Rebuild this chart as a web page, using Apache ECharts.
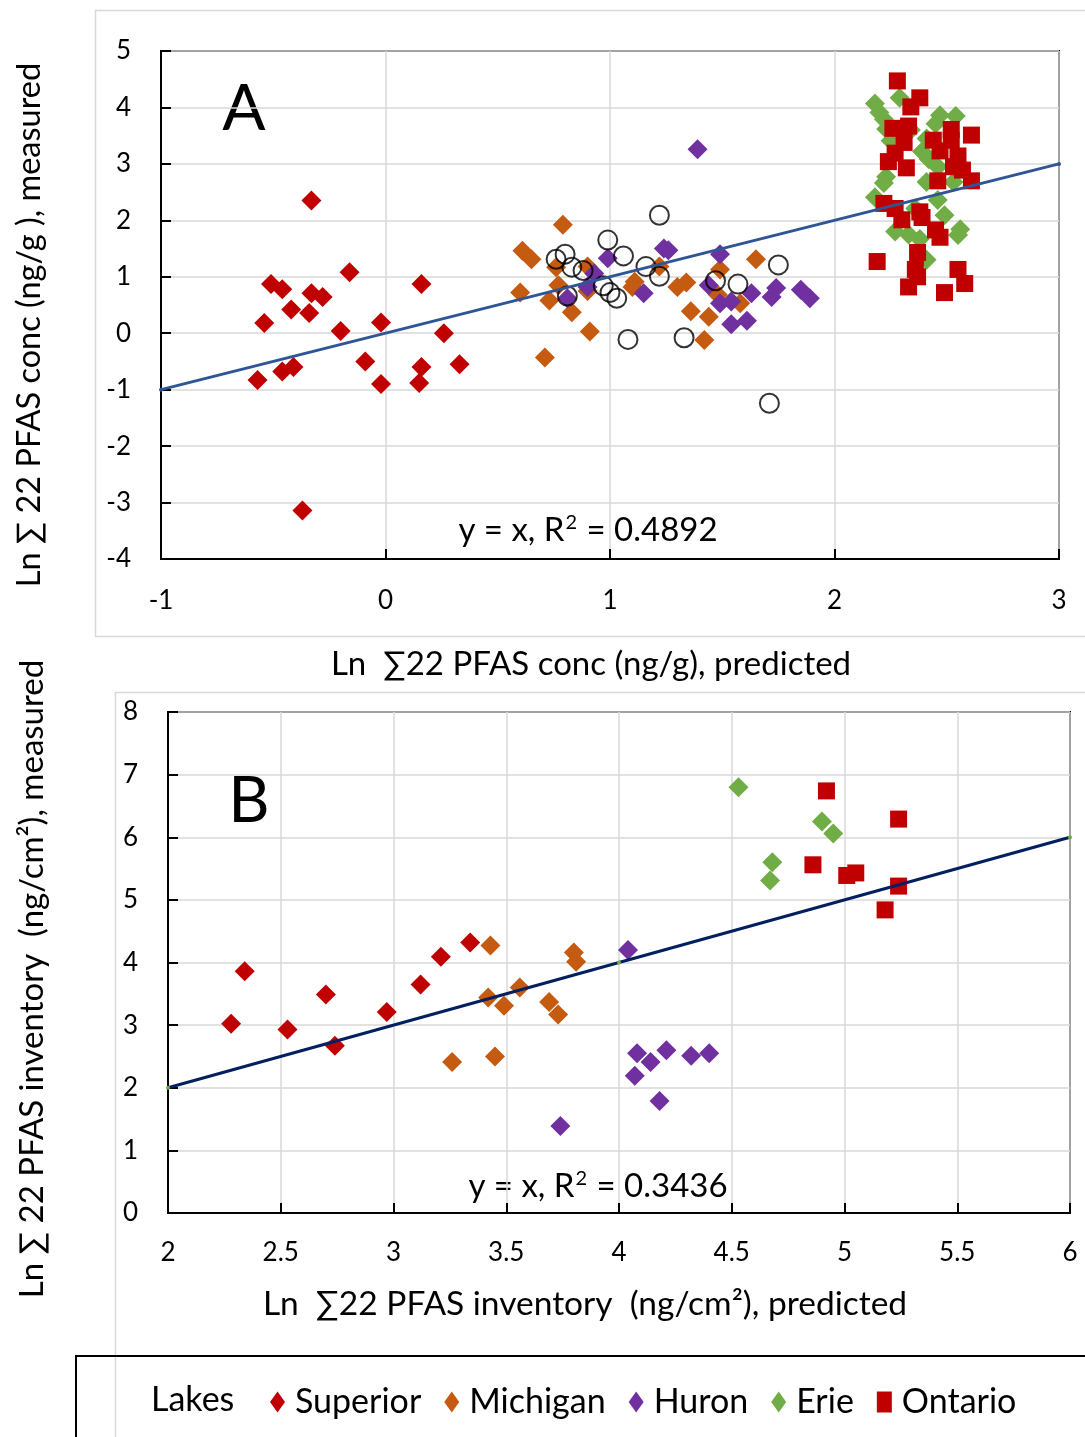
<!DOCTYPE html>
<html>
<head>
<meta charset="utf-8">
<script src="https://cdn.jsdelivr.net/npm/echarts@6/dist/echarts.min.js"></script>
<style>
html,body{margin:0;padding:0;background:#fff;}
#c{width:1085px;height:1437px;}
</style>
</head>
<body>
<div id="c"></div>
<script>
// ---------- Panel A data: [predicted, measured] (ln ng/g) ----------
const superiorA = [[-0.33,2.35],[-0.51,0.87],[-0.46,0.78],[-0.33,0.71],[-0.28,0.64],[-0.16,1.08],[0.16,0.87],[-0.42,0.42],[-0.34,0.36],[-0.54,0.18],[-0.20,0.04],[-0.02,0.19],[0.26,0.00],[-0.09,-0.50],[0.33,-0.55],[-0.46,-0.68],[-0.41,-0.60],[-0.57,-0.83],[0.16,-0.60],[-0.02,-0.90],[0.15,-0.88],[-0.37,-3.14]];
const michiganA = [[0.79,1.92],[0.61,1.46],[0.65,1.31],[0.76,1.17],[0.90,1.18],[0.60,0.72],[0.77,0.85],[0.73,0.58],[0.83,0.37],[0.90,0.75],[0.91,0.03],[0.71,-0.43],[1.11,0.91],[1.10,0.82],[1.22,1.18],[1.30,0.82],[1.34,0.90],[1.36,0.39],[1.44,0.29],[1.42,-0.12],[1.49,1.13],[1.48,0.68],[1.58,0.53],[1.65,1.31]];
const huronA = [[0.99,1.33],[1.24,1.50],[1.26,1.47],[0.93,1.06],[0.90,0.82],[0.81,0.62],[1.15,0.71],[1.49,1.40],[1.44,0.85],[1.49,0.53],[1.54,0.56],[1.63,0.71],[1.74,0.80],[1.72,0.64],[1.85,0.77],[1.89,0.62],[1.54,0.16],[1.61,0.22],[1.39,3.26]];
const erieA = [[2.18,4.07],[2.29,4.17],[2.20,3.91],[2.47,3.86],[2.54,3.85],[2.22,3.79],[2.23,3.62],[2.45,3.71],[2.34,3.60],[2.25,3.41],[2.41,3.45],[2.39,3.22],[2.42,3.08],[2.46,2.95],[2.23,2.77],[2.22,2.66],[2.41,2.68],[2.53,2.68],[2.18,2.41],[2.46,2.36],[2.36,2.21],[2.49,2.09],[2.27,1.80],[2.33,1.75],[2.38,1.67],[2.55,1.74],[2.56,1.84],[2.41,1.30]];
const ontarioA = [[2.28,4.47],[2.38,4.17],[2.34,4.01],[2.26,3.63],[2.33,3.67],[2.31,3.38],[2.52,3.61],[2.61,3.51],[2.44,3.42],[2.52,3.42],[2.27,3.19],[2.47,3.23],[2.55,3.14],[2.24,3.04],[2.32,2.93],[2.53,2.95],[2.57,2.89],[2.46,2.70],[2.61,2.70],[2.22,2.30],[2.27,2.21],[2.30,2.01],[2.38,2.15],[2.39,2.05],[2.45,1.83],[2.47,1.70],[2.19,1.27],[2.37,1.43],[2.36,1.13],[2.37,1.00],[2.55,1.13],[2.33,0.82],[2.58,0.88],[2.49,0.72]];
const otherA = [[1.22,2.09],[0.99,1.65],[0.80,1.40],[0.76,1.31],[1.06,1.37],[0.83,1.17],[0.88,1.11],[1.16,1.18],[1.22,1.01],[0.97,0.84],[1.00,0.72],[1.03,0.62],[0.81,0.66],[1.47,0.93],[1.57,0.87],[1.75,1.21],[1.08,-0.11],[1.33,-0.08],[1.71,-1.24]];
const lineA = [[-1,-1],[3,3]];

// ---------- Panel B data: [predicted, measured] (ln ng/cm2) ----------
const superiorB = [[2.28,3.02],[2.34,3.86],[2.53,2.93],[2.70,3.49],[2.74,2.67],[2.97,3.21],[3.12,3.65],[3.21,4.09],[3.34,4.32]];
const michiganB = [[3.43,4.27],[3.26,2.41],[3.45,2.50],[3.42,3.44],[3.49,3.31],[3.56,3.60],[3.69,3.37],[3.73,3.17],[3.80,4.16],[3.81,4.01]];
const huronB = [[4.04,4.20],[3.74,1.39],[4.08,2.55],[4.14,2.41],[4.21,2.60],[4.07,2.19],[4.18,1.79],[4.32,2.51],[4.40,2.55]];
const erieB = [[4.53,6.80],[4.90,6.25],[4.95,6.06],[4.68,5.60],[4.67,5.31]];
const ontarioB = [[4.92,6.74],[5.24,6.29],[4.86,5.56],[5.01,5.39],[5.05,5.43],[5.24,5.22],[5.18,4.84]];
const lineB = [[2,2],[4,4],[6,6]];

const lakeNames = ['Superior','Michigan','Huron','Erie','Ontario'];
const eqA = 'y = x, R{s|2} = 0.4892';
const eqB = 'y = x, R{s|2} = 0.3436';

const FONT = 'Lato, "DejaVu Sans", sans-serif';
const C = {Superior:'#C00000', Michigan:'#C55A11', Huron:'#7030A0', Erie:'#70AD47', Ontario:'#C00000'};

function sc(name, data, idx, symbol, size){
  return {type:'scatter', name, data, xAxisIndex:idx, yAxisIndex:idx,
    symbol, symbolSize:size, itemStyle:{color:C[name], opacity:1}, silent:true, z:3};
}
function axisCommon(){
  return {
    axisLine:{show:true, onZero:false, lineStyle:{color:'#000', width:2}},
    axisTick:{show:true, inside:true, length:10, lineStyle:{color:'#000', width:2}},
    splitLine:{show:true, lineStyle:{color:'#d9d9d9', width:1.5}},
    axisLabel:{color:'#000', fontSize:26, fontFamily:FONT}
  };
}
function txt(x, y, text, size, extra){
  return Object.assign({type:'text', x, y, style:{text, font:size+'px '+FONT, fill:'#000',
    align:'center', verticalAlign:'middle', textAlign:'center', textVerticalAlign:'middle'}}, extra||{});
}
function richTxt(x, y, text, size){
  return {type:'text', x, y, style:{text, fill:'#000', fontSize:size, fontFamily:FONT,
    align:'center', verticalAlign:'middle', textAlign:'center', textVerticalAlign:'middle',
    rich:{s:{fontSize:Math.round(size*0.62), fontFamily:FONT, fill:'#000', padding:[0,1,Math.round(size*0.42),1]}}}};
}

const chart = echarts.init(document.getElementById('c'), null, {renderer:'canvas'});
const option = {
  animation:false,
  backgroundColor:'#fff',
  grid:[
    {left:161, top:51, width:898, height:508, show:true, borderColor:'#000', borderWidth:2},
    {left:168, top:712, width:902, height:501, show:true, borderColor:'#000', borderWidth:2}
  ],
  xAxis:[
    Object.assign(axisCommon(), {type:'value', gridIndex:0, min:-1, max:3, interval:1}),
    Object.assign(axisCommon(), {type:'value', gridIndex:1, min:2, max:6, interval:0.5})
  ],
  yAxis:[
    Object.assign(axisCommon(), {type:'value', gridIndex:0, min:-4, max:5, interval:1}),
    Object.assign(axisCommon(), {type:'value', gridIndex:1, min:0, max:8, interval:1})
  ],
  legend:{
    left:265, top:1380, itemWidth:15, itemHeight:21, itemGap:23,
    textStyle:{fontSize:34, fontFamily:FONT, color:'#000', padding:[0,0,0,5]},
    data:[
      {name:'Superior', icon:'diamond'},
      {name:'Michigan', icon:'diamond'},
      {name:'Huron', icon:'diamond'},
      {name:'Erie', icon:'diamond'},
      {name:'Ontario', icon:'rect'}
    ],
    selectedMode:false
  },
  series:[
    sc('Superior', superiorA, 0, 'diamond', 20),
    sc('Michigan', michiganA, 0, 'diamond', 20),
    sc('Huron', huronA, 0, 'diamond', 20),
    sc('Erie', erieA, 0, 'diamond', 20),
    sc('Ontario', ontarioA, 0, 'rect', 17),
    {type:'scatter', name:'Other', data:otherA, xAxisIndex:0, yAxisIndex:0, symbol:'circle', symbolSize:19,
      itemStyle:{color:'rgba(0,0,0,0)', borderColor:'#000', borderWidth:2}, silent:true, z:4},
    {type:'line', name:'1:1 A', data:lineA, xAxisIndex:0, yAxisIndex:0, symbol:'circle', symbolSize:4,
      itemStyle:{color:'#2F5597'}, lineStyle:{color:'#2F5597', width:3}, silent:true, z:5},
    sc('Superior', superiorB, 1, 'diamond', 20),
    sc('Michigan', michiganB, 1, 'diamond', 20),
    sc('Huron', huronB, 1, 'diamond', 20),
    sc('Erie', erieB, 1, 'diamond', 20),
    sc('Ontario', ontarioB, 1, 'rect', 17),
    {type:'line', name:'1:1 B', data:lineB, xAxisIndex:1, yAxisIndex:1, symbol:'circle', symbolSize:4, showSymbol:true,
      itemStyle:{color:'#70AD47'}, lineStyle:{color:'#002060', width:3}, silent:true, z:5}
  ],
  graphic:[
    {type:'rect', z:-10, shape:{x:95.5, y:10.5, width:1100, height:626}, style:{fill:'none', stroke:'#d9d9d9', lineWidth:1.5}},
    {type:'rect', z:-10, shape:{x:115.5, y:692.5, width:1100, height:900}, style:{fill:'none', stroke:'#d9d9d9', lineWidth:1.5}},
    {type:'rect', z:-5, shape:{x:76, y:1356, width:1100, height:200}, style:{fill:'none', stroke:'#000', lineWidth:2}},
    txt(244, 109, 'A', 64),
    txt(249, 801, 'B', 64),
    richTxt(588, 530, eqA, 33),
    richTxt(598, 1186, eqB, 33),
    txt(591, 664, 'Ln  ∑22 PFAS conc (ng/g), predicted', 33),
    txt(30, 325, 'Ln ∑ 22 PFAS conc (ng/g ), measured', 32.5, {rotation:Math.PI/2}),
    txt(585, 1304, 'Ln  ∑22 PFAS inventory  (ng/cm²), predicted', 33.5),
    txt(32, 979, 'Ln ∑ 22 PFAS inventory  (ng/cm²), measured', 33, {rotation:Math.PI/2}),
    {type:'text', x:151, y:1400, style:{text:'Lakes', font:'34px '+FONT, fill:'#000', align:'left', verticalAlign:'middle', textAlign:'left', textVerticalAlign:'middle'}}
  ]
};
option.xAxis[0].axisLabel.margin = 29;
option.yAxis[0].axisLabel.margin = 30;
option.xAxis[1].axisLabel.margin = 27;
option.yAxis[1].axisLabel.margin = 30;
chart.setOption(option);
</script>
</body>
</html>
